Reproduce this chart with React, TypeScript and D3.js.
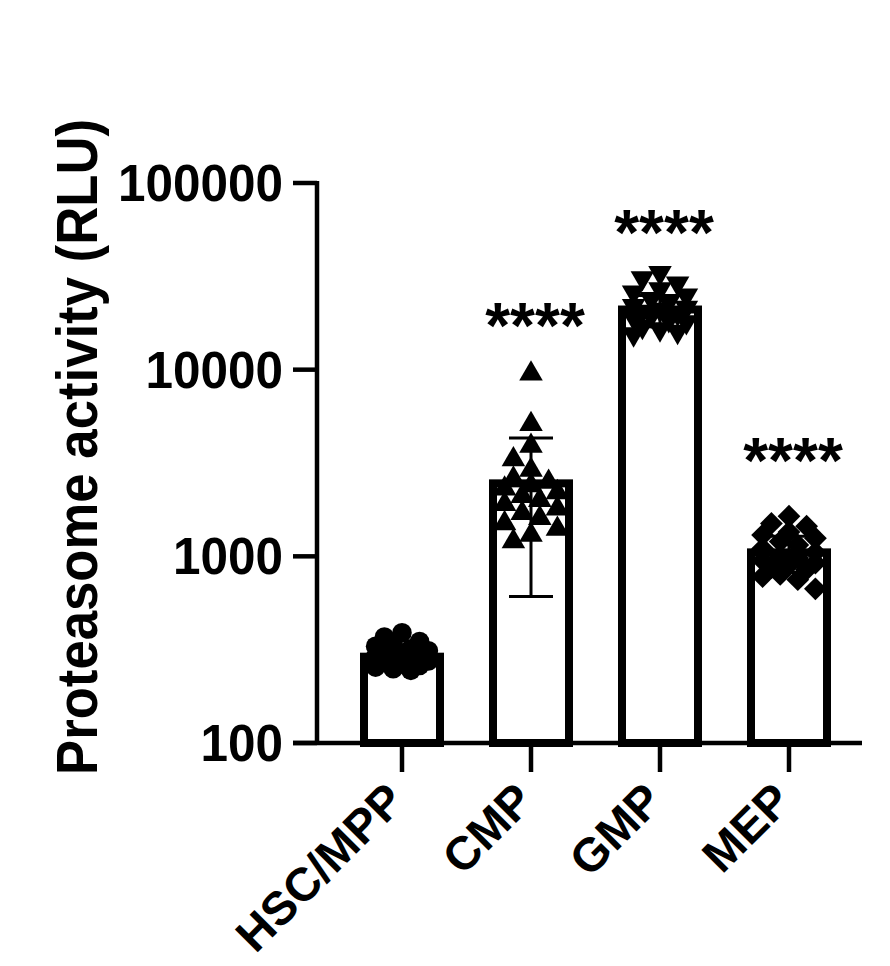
import React from "react";
import * as d3 from "d3";

const categories = ["HSC/MPP", "CMP", "GMP", "MEP"];
const means = [290, 2460, 21000, 1050];
const sds = [40, 1850, 4000, 230];
const hscPoints = [390, 370, 350, 340, 330, 320, 312, 305, 300, 295, 290, 285, 280, 275, 270, 265, 260, 255, 250, 245];
const cmpPoints = [9500, 5100, 3900, 3300, 2900, 2600, 2500, 2400, 2300, 2200, 2100, 2000, 1900, 1800, 1700, 1600, 1500, 1400, 1300, 1200];
const gmpPoints = [33000, 31000, 29000, 27000, 26000, 25000, 24000, 23000, 22000, 21500, 21000, 20500, 20000, 19500, 19000, 18500, 18000, 17000, 16500, 16000, 15500];
const mepPoints = [1640, 1500, 1450, 1350, 1300, 1250, 1200, 1150, 1100, 1050, 1000, 980, 950, 920, 900, 870, 850, 800, 780, 750, 670];
const groupPoints = [hscPoints, cmpPoints, gmpPoints, mepPoints];
const yTicks = [100, 1000, 10000, 100000];
const starLabels = ["", "****", "****", "****"];
const starValues = [0, 18900, 59600, 3570];
const yLabel = "Proteasome activity (RLU)";

const W = 890, H = 966;
const axisLeft = 317, axisRight = 862, axisBottom = 743, axisTop = 183;
const FONT = "'Liberation Sans', Arial, Helvetica, sans-serif";

const y = d3.scaleLog().domain([100, 100000]).range([axisBottom, axisTop]);
const x = d3.scalePoint<string>().domain(categories).range([402, 789]);

const symbolTypes = [d3.symbolCircle, d3.symbolTriangle, d3.symbolTriangle, d3.symbolSquare];
const symbolSizes = [300, 240, 240, 260];
const symbolRot = [0, 0, 180, 45];

function dodge(vals: number[], r: number, maxOff: number) {
  const items = vals.map((v, i) => ({ i, py: y(v), dx: 0 }));
  const sorted = [...items].sort((a, b) => a.py - b.py);
  const placed: { py: number; dx: number }[] = [];
  const step = r * 0.8;
  const minD = r * 1.5;
  for (const it of sorted) {
    let best = 0, bestScore = -Infinity;
    for (let k = 0; k < 20; k++) {
      const off = (k % 2 === 0 ? 1 : -1) * Math.ceil(k / 2) * step;
      if (Math.abs(off) > maxOff) continue;
      let md = Infinity;
      for (const p of placed) {
        const d = Math.hypot(p.dx - off, p.py - it.py);
        if (d < md) md = d;
      }
      if (md >= minD) { best = off; bestScore = Infinity; break; }
      if (md > bestScore) { bestScore = md; best = off; }
    }
    it.dx = best;
    placed.push({ py: it.py, dx: best });
  }
  return items;
}

export default function App() {
  const barW = 76;
  const barStroke = 8;
  return (
    <svg width={W} height={H} style={{ position: "absolute", left: 0, top: 0, background: "#fff" }} fontFamily={FONT}>
      <rect width={W} height={H} fill="#fff" />
      {categories.map((c, i) => {
        const cx = x(c)!;
        const top = y(means[i]);
        return (
          <rect key={c} x={cx - barW / 2} y={top} width={barW} height={axisBottom - top}
            fill="#fff" stroke="#000" strokeWidth={barStroke} />
        );
      })}
      {categories.map((c, i) => {
        const cx = x(c)!;
        const hi = y(means[i] + sds[i]);
        const lo = y(Math.max(means[i] - sds[i], 101));
        return (
          <g key={"e" + c} stroke="#000" strokeWidth={3}>
            <line x1={cx} x2={cx} y1={hi} y2={lo} />
            <line x1={cx - 22} x2={cx + 22} y1={hi} y2={hi} />
            <line x1={cx - 22} x2={cx + 22} y1={lo} y2={lo} />
          </g>
        );
      })}
      {categories.map((c, i) => {
        const cx = x(c)!;
        const pts = dodge(groupPoints[i], 11, 34);
        const path = d3.symbol().type(symbolTypes[i]).size(symbolSizes[i])()!;
        return (
          <g key={"p" + c}>
            {pts.map((p) => (
              <path key={p.i} d={path} fill="#000"
                transform={`translate(${cx + p.dx},${p.py}) rotate(${symbolRot[i]})`} />
            ))}
          </g>
        );
      })}
      <g stroke="#000" strokeWidth={4.5} strokeLinecap="butt">
        <line x1={axisLeft} x2={axisLeft} y1={axisTop - 2} y2={axisBottom + 2} />
        <line x1={293} x2={axisRight} y1={axisBottom} y2={axisBottom} />
        {yTicks.map((t) => (
          <line key={t} x1={293} x2={axisLeft} y1={y(t)} y2={y(t)} />
        ))}
        {categories.map((c) => (
          <line key={c} x1={x(c)!} x2={x(c)!} y1={axisBottom} y2={axisBottom + 29} />
        ))}
      </g>
      {yTicks.map((t) => {
        const s = String(t);
        return (
          <text key={t} x={283} y={y(t) + 18} textAnchor="end" fontWeight="bold" fontSize={51}
            textLength={s.length * 27.5} lengthAdjust="spacingAndGlyphs">{s}</text>
        );
      })}
      {categories.map((c) => (
        <text key={c} transform={`translate(${x(c)! + 5},${axisBottom + 60}) rotate(-45)`}
          textAnchor="end" fontWeight="bold" fontSize={47}>{c}</text>
      ))}
      <text transform={`translate(97,447) rotate(-90)`} textAnchor="middle" fontWeight="bold" fontSize={58}
        textLength={656} lengthAdjust="spacingAndGlyphs">{yLabel}</text>
      {categories.map((c, i) => starLabels[i] ? (
        <text key={"s" + c} x={x(c)! + 4} y={y(starValues[i]) + 30} textAnchor="middle" fontWeight="bold"
          fontSize={64}>{starLabels[i]}</text>
      ) : null)}
    </svg>
  );
}
